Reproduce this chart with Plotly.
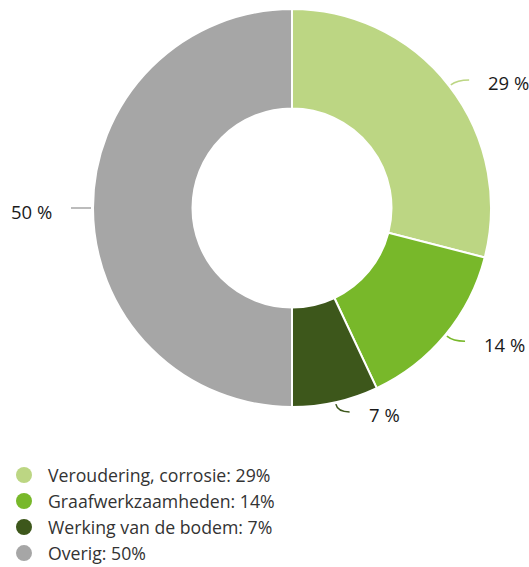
import math
import plotly.graph_objects as go

# ---- data ----
labels = ["Veroudering, corrosie", "Graafwerkzaamheden", "Werking van de bodem", "Overig"]
values = [29, 14, 7, 50]
colors = ["#bcd683", "#78b82a", "#3d571b", "#a6a6a6"]

W, H = 529, 567
CX, CY, R = 292, 208, 199  # pie centre / radius in px (from top-left)


def fx(px):
    return px / W


def fy(py):
    return (H - py) / H


fig = go.Figure()
fig.add_trace(go.Pie(
    labels=labels, values=values, sort=False, direction="clockwise", rotation=0,
    hole=0.5, textinfo="none", hoverinfo="label+percent", showlegend=False,
    marker=dict(colors=colors, line=dict(color="white", width=2)),
    domain=dict(x=[fx(CX - R), fx(CX + R)], y=[fy(CY + R), fy(CY - R)]),
))

# legend entries with circular markers
for lab, val, col in zip(labels, values, colors):
    fig.add_trace(go.Scatter(x=[None], y=[None], mode="markers", name=f"{lab}: {val}%",
                             marker=dict(color=col, size=19, symbol="circle")))

# outside labels with curved leader lines, computed from the data
total = sum(values)
cum = 0
shapes, annotations = [], []
for val, col in zip(values, colors):
    mid = (cum + val / 2) / total * 2 * math.pi
    cum += val
    dx, dy = math.sin(mid), -math.cos(mid)
    x0, y0 = CX + (R + 2) * dx, CY + (R + 2) * dy
    x1, y1 = CX + (R + 10) * dx, CY + (R + 10) * dy
    side = 1 if dx >= 0 else -1
    x2, y2 = x1 + side * 12, y1
    P = lambda x, y: f"{fx(x):.5f},{fy(y):.5f}"
    shapes.append(dict(type="path", xref="paper", yref="paper",
                       path=f"M {P(x0, y0)} Q {P(x1, y1)} {P(x2, y2)}",
                       line=dict(color=col, width=1.5)))
    annotations.append(dict(xref="paper", yref="paper", x=fx(x2 + side * 17), y=fy(y2 + 3),
                            text=f"{val} %", showarrow=False,
                            xanchor="left" if side > 0 else "right", yanchor="middle",
                            font=dict(size=18.5, color="#1a1a1a")))

fig.update_layout(
    width=W, height=H, margin=dict(l=0, r=0, t=0, b=0, autoexpand=False),
    paper_bgcolor="white", plot_bgcolor="white",
    font=dict(family="Open Sans, sans-serif", size=18, color="#333333"),
    xaxis=dict(visible=False), yaxis=dict(visible=False),
    showlegend=True,
    legend=dict(x=0, y=fy(H + 5), xanchor="left", yanchor="bottom", itemwidth=38,
                font=dict(size=17.7, color="#333333"), bgcolor="rgba(0,0,0,0)",
                itemclick=False, itemdoubleclick=False),
    shapes=shapes, annotations=annotations,
)

fig.write_html("out.html", config={"displayModeBar": False},
               post_script="document.body.style.margin='0';")
